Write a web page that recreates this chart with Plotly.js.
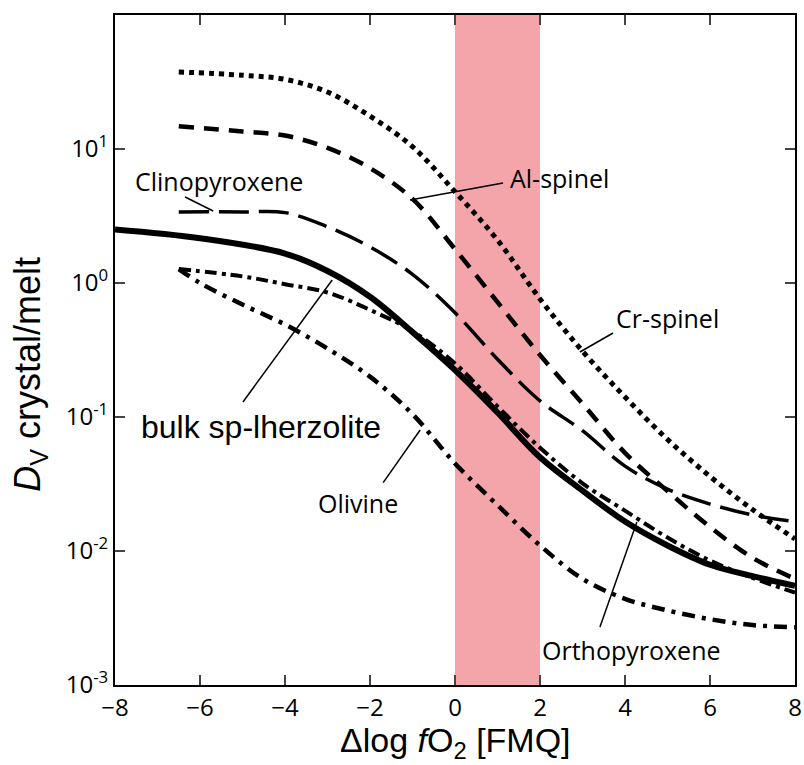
<!DOCTYPE html>
<html>
<head>
<meta charset="utf-8">
<script src="https://cdn.plot.ly/plotly-3.0.1.min.js"></script>
<style>html,body{margin:0;padding:0;background:#fff;}#chart{width:804px;height:765px;}</style>
</head>
<body>
<div id="chart"></div>
<script>
// x: Δlog fO2 [FMQ]; y: D_V crystal/melt
const bulkX = [-8,-6,-4,-3,-2,-1,0,1,2,3,4,5,6,7,8];
const bulkY = [2.51,2.16,1.66,1.23,0.79,0.43,0.224,0.108,0.050,0.0282,0.0166,0.0110,0.0079,0.0065,0.0055];

const crX = [-6.5,-5,-4,-3,-2,-1,0,1,2,3,4,5,6,7,8];
const crY = [37.6,35.5,33.1,26.6,17.6,10.4,4.8,2.09,0.76,0.31,0.141,0.068,0.036,0.0204,0.0123];

const alX = [-6.5,-5,-4,-3,-2,-1,0,1,2,3,4,5,6,7,8];
const alY = [14.8,13.5,12.6,10.2,7.2,4.24,1.79,0.72,0.29,0.126,0.054,0.028,0.0151,0.0089,0.0062];

const cpxX = [-6.5,-5,-4,-3,-2,-1,0,1,2,3,4,5,6,7,8];
const cpxY = [3.39,3.39,3.35,2.63,1.86,1.16,0.60,0.27,0.132,0.079,0.043,0.029,0.0224,0.0186,0.0166];

const opxX = [-6.5,-5,-4,-3,-2,-1,0,1,2,3,4,5,6,7,8];
const opxY = [1.27,1.12,0.98,0.85,0.63,0.437,0.251,0.120,0.059,0.032,0.020,0.0126,0.0085,0.0063,0.0049];

const olX = [-6.5,-6,-5,-4,-3,-2,-1,0,1,2,3,4,5,6,7,8];
const olY = [1.27,1.0,0.69,0.49,0.324,0.20,0.105,0.045,0.022,0.011,0.0062,0.0044,0.0036,0.0031,0.0028,0.0027];

const xTicks = [-8,-6,-4,-2,0,2,4,6,8];
const yTicks = [0.001,0.01,0.1,1,10];
const yTickText = ['10<sup>-3</sup>','10<sup>-2</sup>','10<sup>-1</sup>','10<sup>0</sup>','10<sup>1</sup>'];

// labels: [text, x, log10(y), size, family]
const labels = [
  ['Clinopyroxene', -5.55, 0.76, 25, 'Open Sans'],
  ['Al-spinel', 2.47, 0.785, 25, 'Open Sans'],
  ['Cr-spinel', 4.99, -0.26, 25, 'Open Sans'],
  ['bulk sp-lherzolite', -4.56, -1.075, 32, 'Liberation Sans, Arial'],
  ['Olivine', -2.28, -1.64, 25, 'Open Sans'],
  ['Orthopyroxene', 4.16, -2.74, 25, 'Open Sans']
];
// leader lines: x0, log10 y0, x1, log10 y1
const leaders = [
  [-6.35, 0.642, -5.69, 0.537],
  [1.13, 0.746, -1.06, 0.619],
  [3.72, -0.373, 2.94, -0.515],
  [-4.99, -0.888, -2.89, 0.022],
  [-1.69, -1.49, -0.82, -1.097],
  [3.41, -2.567, 4.28, -1.784]
];

const mk = (x, y, w, dash) => ({x: x, y: y, type: 'scatter', mode: 'lines',
  line: {color: '#000', width: w, dash: dash, shape: 'spline', smoothing: 1},
  hoverinfo: 'skip', showlegend: false});

const traces = [
  mk(crX, crY, 5, '5px,5px'),
  mk(alX, alY, 4.5, '15px,10px'),
  mk(cpxX, cpxY, 3.5, '30px,10px'),
  mk(opxX, opxY, 4, '12px,5px,4px,5px'),
  mk(olX, olY, 4.5, '13px,7px,4px,7px'),
  mk(bulkX, bulkY, 6, 'solid')
];

const shapes = [{type: 'rect', xref: 'x', yref: 'paper', x0: 0, x1: 2, y0: 0, y1: 1,
  fillcolor: '#f3a5aa', line: {width: 0}, layer: 'below'}];
leaders.forEach(l => shapes.push({type: 'line', xref: 'x', yref: 'y',
  x0: l[0], y0: Math.pow(10, l[1]), x1: l[2], y1: Math.pow(10, l[3]), line: {color: '#000', width: 1.5}}));

const annotations = labels.map(l => ({text: l[0], x: l[1], y: l[2], xref: 'x', yref: 'y',
  showarrow: false, font: {family: l[4], size: l[3], color: '#000'}, xanchor: 'center', yanchor: 'middle'}));
annotations.push({text: '<i>D</i><sub>V</sub> crystal/melt', xref: 'paper', yref: 'paper',
  x: -0.125, y: 0.463, textangle: -90, showarrow: false, xanchor: 'center', yanchor: 'middle',
  font: {family: 'Liberation Sans, Arial', size: 36, color: '#000'}});
annotations.push({text: 'Δlog <i>f</i>O<sub>2</sub> [FMQ]', xref: 'paper', yref: 'paper',
  x: 0.5, y: -0.086, showarrow: false, xanchor: 'center', yanchor: 'middle',
  font: {family: 'Liberation Sans, Arial', size: 34, color: '#000'}});

const layout = {
  width: 804, height: 765,
  margin: {l: 115, r: 9, t: 15, b: 80},
  paper_bgcolor: '#fff', plot_bgcolor: 'rgba(0,0,0,0)',
  showlegend: false,
  xaxis: {range: [-8, 8], tickvals: xTicks, ticks: 'inside', ticklen: 10, tickwidth: 2,
    showline: true, linewidth: 2, linecolor: '#000', mirror: 'ticks', showgrid: false, zeroline: false,
    tickfont: {family: 'Open Sans', size: 24, color: '#000'}, ticklabelstandoff: 0},
  yaxis: {type: 'log', range: [-3, 2], tickvals: yTicks, ticktext: yTickText, ticks: 'inside', ticklen: 10, tickwidth: 2,
    showline: true, linewidth: 2, linecolor: '#000', mirror: 'ticks', showgrid: false, zeroline: false,
    tickfont: {family: 'Open Sans', size: 24, color: '#000'}, ticklabelstandoff: 0},
  shapes: shapes,
  annotations: annotations
};

Plotly.newPlot('chart', traces, layout, {staticPlot: true, displayModeBar: false});
</script>
</body>
</html>
